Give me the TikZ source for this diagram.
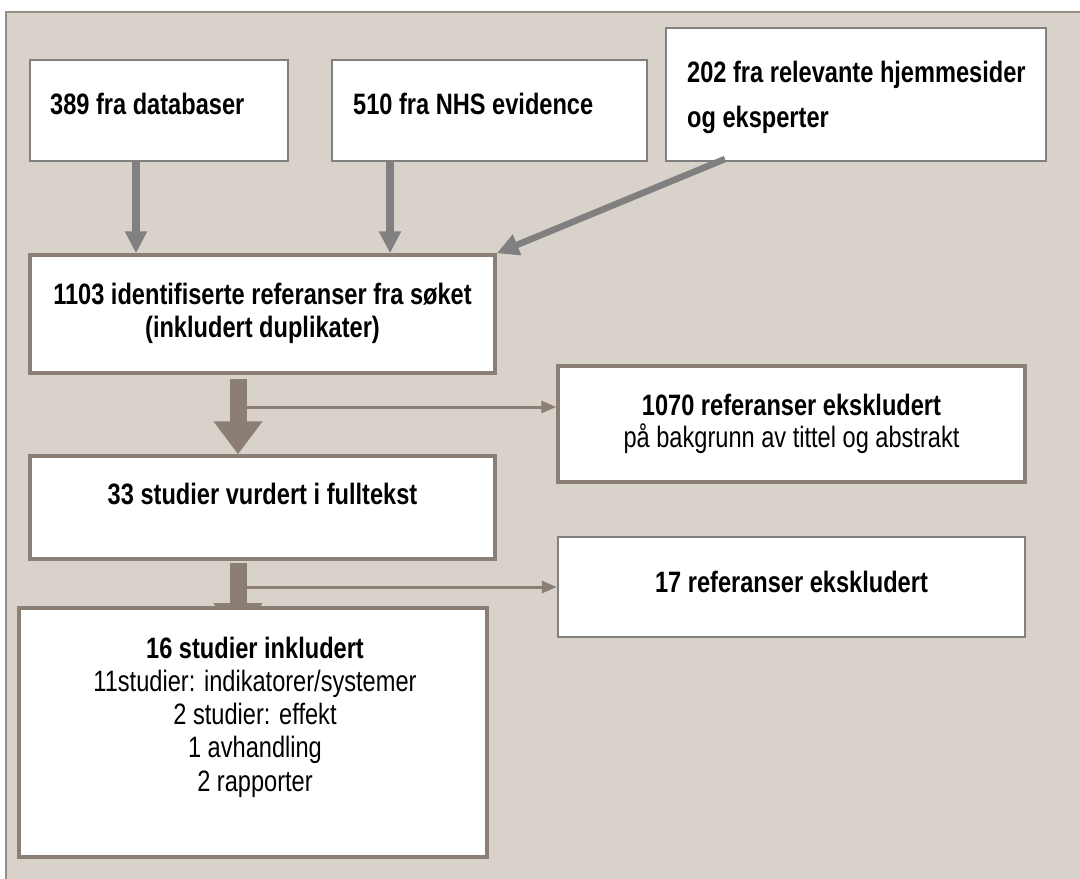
\documentclass[tikz,border=0pt]{standalone}
\usepackage{fontspec}
\setmainfont{Liberation Sans}[FakeStretch=0.80]
\usetikzlibrary{arrows.meta}
\definecolor{panelbg}{RGB}{217,210,203}
\definecolor{panelln}{RGB}{150,141,133}
\definecolor{brn}{RGB}{139,126,116}
\definecolor{gry}{RGB}{128,128,128}
\begin{document}
\begin{tikzpicture}[x=1pt,y=-1pt,
  gbox/.style={draw=gry, line width=2.5pt, fill=white, inner sep=0pt},
  bbox/.style={draw=brn, line width=3.5pt, fill=white, inner sep=0pt},
  txt/.style={font=\fontsize{29.5}{33}\selectfont, inner sep=0pt, anchor=base},
  hd/.style={txt, font=\fontsize{29.5}{33}\selectfont\bfseries},
  hdl/.style={hd, anchor=base west},
  garrow/.style={draw=gry, line width=7.5pt, -{Triangle[width=21pt,length=22pt]}},
  barrow/.style={draw=brn, line width=17pt, -{Triangle[width=47pt,length=33pt]}},
  sidearrow/.style={draw=brn, line width=3pt, -{Triangle[width=12pt,length=15pt]}}
]
\useasboundingbox (0,0) rectangle (1080,879);
\fill[white] (0,0) rectangle (1080,879);
\draw[fill=panelbg, draw=panelln, line width=1.5pt] (6,12) rectangle (1086,886);

% boxes
\node[gbox, minimum width=258pt, minimum height=101pt] (b1) at (159,110.5) {};
\node[gbox, minimum width=315pt, minimum height=101pt] (b2) at (489.5,110.5) {};
\node[gbox, minimum width=380pt, minimum height=133pt] (b3) at (856,94.5) {};
\node[bbox, minimum width=465pt, minimum height=118pt] (b4) at (262.5,314) {};
\node[bbox, minimum width=465pt, minimum height=103pt] (b5) at (262.5,507.5) {};
\node[bbox, minimum width=467pt, minimum height=116pt] (b6) at (791.5,424) {};
\node[gbox, minimum width=467pt, minimum height=100pt] (b7) at (791.5,587) {};

% texts
\node[hdl] (t1) at (50,114) {389 fra databaser};
\node[hdl] (t2) at (353,114) {510 fra NHS evidence};
\node[hdl] (t3a) at (687,82) {202 fra relevante hjemmesider};
\node[hdl] (t3b) at (687,127) {og eksperter};
\node[hd] (t4a) at (262.5,304) {1103 identifiserte referanser fra søket};
\node[hd] (t4b) at (262.5,337) {(inkludert duplikater)};
\node[hd] (t5) at (262.5,504) {33 studier vurdert i fulltekst};
\node[hd] (t6a) at (791.5,415) {1070 referanser ekskludert};
\node[txt] (t6b) at (791.5,447) {på bakgrunn av tittel og abstrakt};
\node[hd] (t7) at (791.5,592) {17 referanser ekskludert};

% connectors
\coordinate (x1) at (136,0);
\coordinate (x2) at (390,0);
\coordinate (xm) at (238,0);
\coordinate (s3) at (725,159);
\coordinate (y6) at (0,407);
\coordinate (e4) at (238,636);

\draw[garrow] (b1.south -| x1) -- (b4.north -| x1);
\draw[garrow] (b2.south -| x2) -- (b4.north -| x2);
\draw[garrow, line width=6.5pt] (s3) -- (b4.north east);

\draw[sidearrow] (xm |- y6) -- (b6.west |- y6);
\draw[sidearrow] (xm |- b7.west) -- (b7.west);
\draw[barrow, shorten <=4.5pt] (b4.south -| xm) -- (b5.north -| xm);
\draw[barrow, shorten <=2pt] (b5.south -| xm) -- (e4);

% final box (drawn over the arrow tip)
\node[bbox, minimum width=468pt, minimum height=249pt] (b8) at (253,732.5) {};
\node[hd] (t8a) at (255,658) {16 studier inkludert};
\node[txt] (t8b) at (255,691) {11studier: indikatorer/systemer};
\node[txt] (t8c) at (255,724) {2 studier: effekt};
\node[txt] (t8d) at (255,757) {1 avhandling};
\node[txt] (t8e) at (255,791) {2 rapporter};
\end{tikzpicture}
\end{document}
